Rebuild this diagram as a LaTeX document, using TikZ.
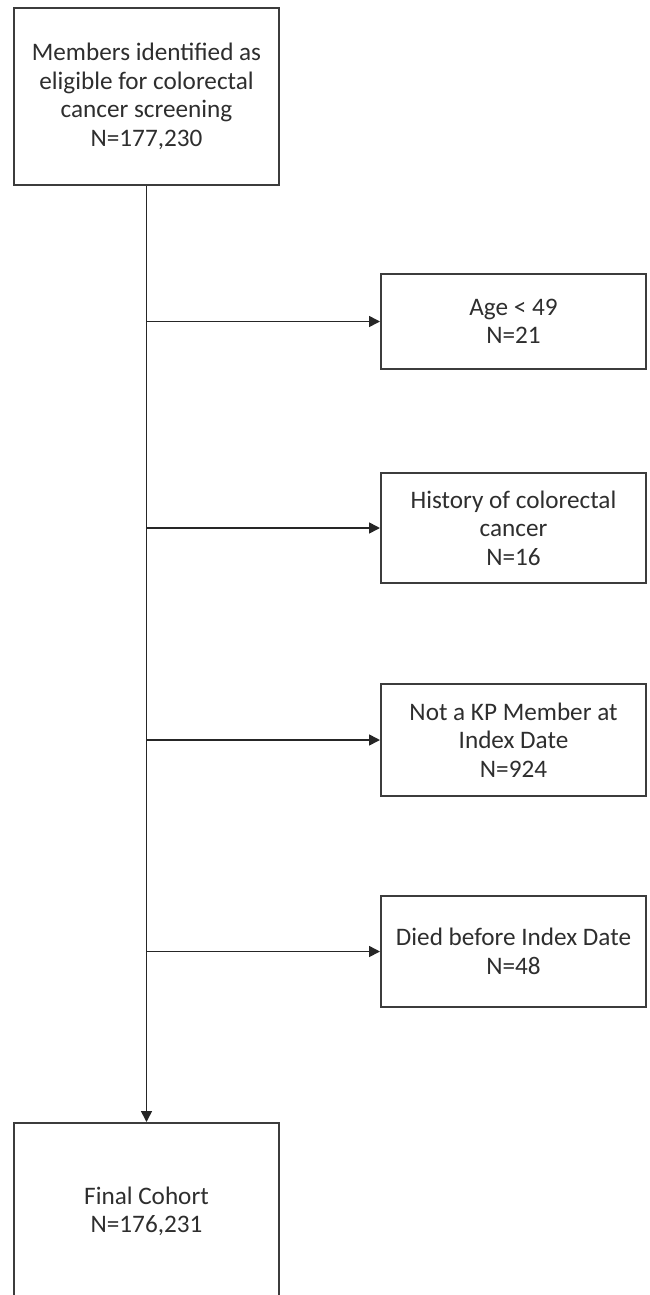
\documentclass[tikz,border=0pt]{standalone}
\usepackage{fontspec}
\setmainfont{Carlito}
\usepackage{tikz}
\usetikzlibrary{arrows.meta}
\definecolor{boxline}{HTML}{3C3C3C}
\definecolor{boxtext}{HTML}{2E2E2E}
\tikzset{
  flowbox/.style={draw=boxline,line width=1pt,minimum width=132.5pt,inner sep=0pt,
    align=center,text=boxtext,font=\fontsize{12.6}{14.3}\selectfont},
  flowarrow/.style={-{Triangle[length=5.5pt,width=5.5pt]},line width=0.8pt,draw=black!85}
}
\begin{document}
\begin{tikzpicture}[x=0.5pt,y=-0.5pt]
  \clip (0,0) rectangle (649,1295);
  \node[flowbox,minimum height=88.5pt] (eligible) at (146.5,96.5)
    {Members identified as\\eligible for colorectal\\cancer screening\\N=177,230};
  \node[flowbox,minimum height=88.5pt] (final) at (146.5,1211.5)
    {Final Cohort\\N=176,231};
  \draw[flowarrow] (eligible.south) -- (final.north);
  % exclusions
  \foreach \name/\yc/\boxh/\txt in {age/321.5/47.5/{Age < 49\\N=21},
      history/528/55/{History of colorectal\\cancer\\N=16},
      member/740/56/{Not a KP Member at\\Index Date\\N=924},
      died/951.5/55.5/{Died before Index Date\\N=48}}
  {
    \node[flowbox,minimum height=\boxh pt] (\name) at (513.5,\yc) {\txt};
    \draw[flowarrow] (eligible.south |- \name.west) -- (\name.west);
  }
\end{tikzpicture}
\end{document}
